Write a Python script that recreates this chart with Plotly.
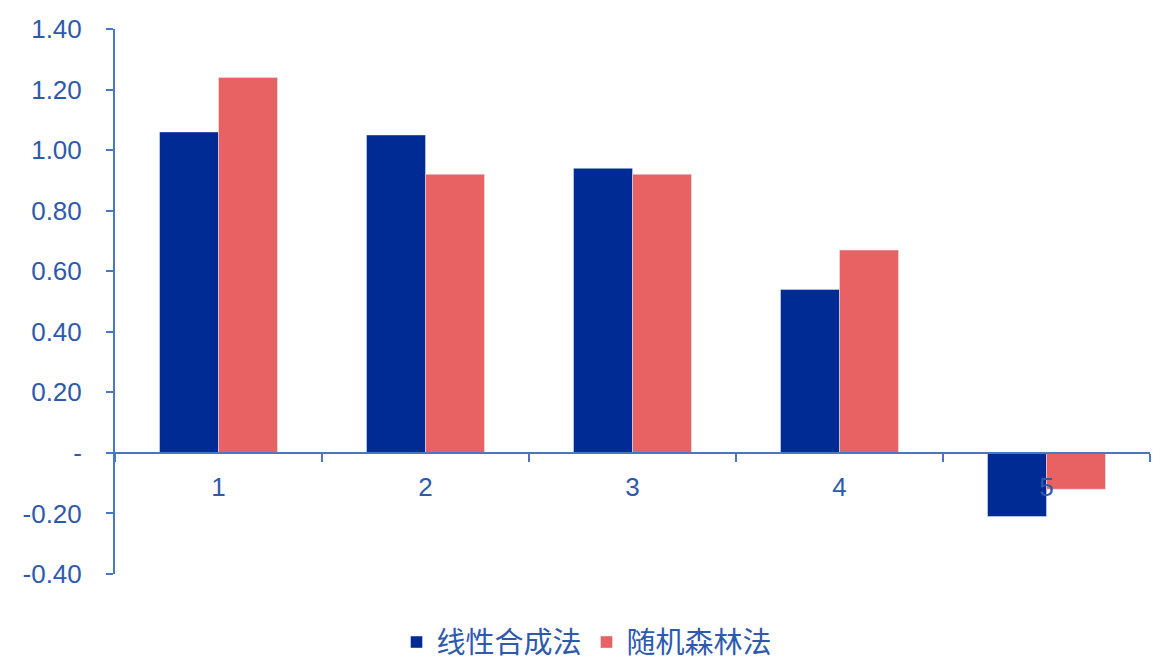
import plotly.graph_objects as go

categories = ["1", "2", "3", "4", "5"]
linear = [1.06, 1.05, 0.94, 0.54, -0.21]
forest = [1.24, 0.92, 0.92, 0.67, -0.12]
tick_vals = [-0.4, -0.2, 0, 0.2, 0.4, 0.6, 0.8, 1.0, 1.2, 1.4]
tick_text = ["-0.40", "-0.20", "-", "0.20", "0.40", "0.60", "0.80", "1.00", "1.20", "1.40"]

axis_color = "#4A76C8"
text_color = "#2E5AAE"

fig = go.Figure()
fig.add_trace(go.Bar(x=categories, y=linear, name="线性合成法", marker_color="#002B94"))
fig.add_trace(go.Bar(x=categories, y=forest, name="随机森林法", marker_color="#E86163"))

ymin, ymax = -0.4, 1.4
fig.update_layout(
    width=1164, height=669,
    margin=dict(l=107, r=22, t=21, b=103, autoexpand=False),
    paper_bgcolor="white", plot_bgcolor="white",
    barmode="group", bargap=0.43, bargroupgap=0,
    font=dict(family="Liberation Sans, Arial, sans-serif", color=text_color, size=26),
    legend=dict(orientation="h", x=0.272, xanchor="left", yref="container", y=0.052, yanchor="middle",
                font=dict(family="Noto Sans CJK SC", size=29, color=text_color),
                itemwidth=30, traceorder="normal"),
    xaxis=dict(anchor="free", position=(0 - ymin) / (ymax - ymin), automargin=False,
               showline=True, linecolor=axis_color, linewidth=2,
               ticks="outside", tickson="boundaries", ticklen=8, tickcolor=axis_color, tickwidth=2,
               showgrid=False, tickfont=dict(size=26, color=text_color),
               ticklabelstandoff=11),
    yaxis=dict(range=[ymin, ymax], tickvals=tick_vals, ticktext=tick_text, automargin=False,
               showline=True, linecolor=axis_color, linewidth=2,
               ticks="outside", ticklen=7, tickcolor=axis_color, tickwidth=2,
               showgrid=False, zeroline=False, tickfont=dict(size=26, color=text_color),
               ticklabelstandoff=19),
)
fig.write_html("out.html")
